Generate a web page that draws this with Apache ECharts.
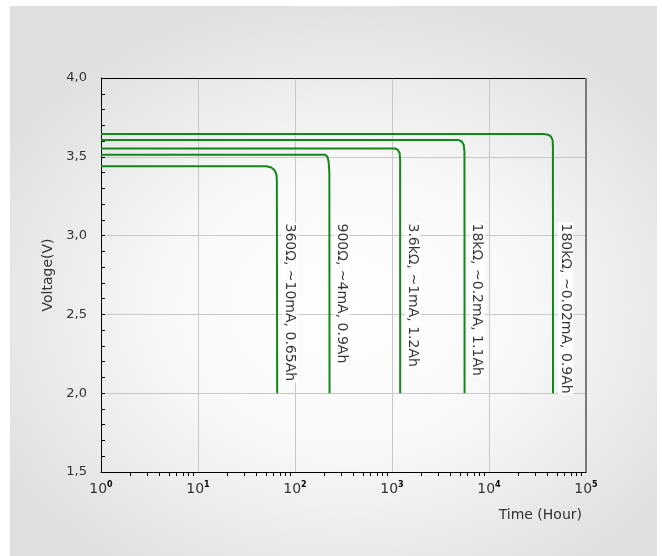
<!DOCTYPE html>
<html>
<head>
<meta charset="utf-8">
<script src="https://cdn.jsdelivr.net/npm/echarts@6/dist/echarts.min.js"></script>
<style>
html,body{margin:0;padding:0;background:#fff;}
#panel{position:absolute;left:10px;top:6px;width:647px;height:550px;
 background:radial-gradient(ellipse 62% 58% at 52% 55%, #ffffff 0%, #f8f8f8 45%, #e8e8e8 80%, #dfdfdf 100%);}
#chart{position:absolute;left:0;top:0;width:662px;height:556px;}
</style>
</head>
<body>
<div id="panel"></div>
<div id="chart"></div>
<script>
// Discharge curves: [time (hour), voltage (V)]
const curve360 = [[1,3.44],[50.7,3.44],[57,3.432],[61.3,3.416],[64.2,3.39],[65,3.352],[65.5,2.0]];
const curve900 = [[1,3.513],[205,3.513],[216,3.50],[222,3.47],[226,3.40],[227,2.0]];
const curve3k6 = [[1,3.553],[1064,3.553],[1142,3.546],[1199,3.524],[1213,3.48],[1215,2.0]];
const curve18k = [[1,3.606],[4875,3.606],[5236,3.597],[5495,3.575],[5585,3.53],[5600,2.0]];
const curve180k = [[1,3.644],[36800,3.644],[40460,3.640],[43470,3.629],[45290,3.606],[45600,3.568],[45700,2.0]];
const curveNames = ['360Ω','900Ω','3.6kΩ','18kΩ','180kΩ'];
const labelTexts = ['360Ω, ~10mA, 0.65Ah','900Ω, ~4mA, 0.9Ah','3.6kΩ, ~1mA, 1.2Ah','18kΩ, ~0.2mA, 1.1Ah','180kΩ, ~0.02mA, 0.9Ah'];
const labelTimes = [65.5, 227, 1215, 5600, 45700];
const labelVoltage = 3.08;
const yTicks = [1.5, 2.0, 2.5, 3.0, 3.5, 4.0];

const curves = [curve360, curve900, curve3k6, curve18k, curve180k];
const chart = echarts.init(document.getElementById('chart'), null, {renderer:'canvas'});
const green = '#12871a';

const series = curves.map((c, i) => ({
  name: curveNames[i], type: 'line', data: c, showSymbol: false, symbol: 'none',
  lineStyle: {color: green, width: 2}, smooth: false, silent: true, z: 3
}));
series.push({
  type: 'scatter', symbolSize: 1, itemStyle: {color: 'rgba(0,0,0,0)'}, silent: true, z: 5,
  data: labelTimes.map((t, i) => [t, labelVoltage, labelTexts[i]]),
  label: {
    show: true, position: [13, 0], rotate: -90, align: 'left', verticalAlign: 'middle',
    formatter: p => p.data[2], fontFamily: 'DejaVu Sans', fontSize: 14, color: '#000',
    backgroundColor: '#fff', padding: [1, 1, 1, 1]
  }
});

chart.setOption({
  animation: false,
  backgroundColor: 'transparent',
  grid: {left: 101, top: 78, right: 76, bottom: 84, containLabel: false,
         show: true, borderColor: '#000', borderWidth: 0},
  xAxis: {
    type: 'log', logBase: 10, min: 1, max: 100000,
    name: 'Time (Hour)', nameLocation: 'end', nameGap: -4,
    nameTextStyle: {fontFamily: 'DejaVu Sans', fontSize: 14, color: '#333', align: 'right', verticalAlign: 'top', padding: [36, 0, 0, 0]},
    axisLine: {show: true, lineStyle: {color: '#000', width: 1}},
    axisTick: {show: false},
    minorTick: {show: true, splitNumber: 9, length: 4, lineStyle: {color: '#000'}},
    minorSplitLine: {show: false},
    splitLine: {show: true, lineStyle: {color: '#c8c8c8', width: 1}},
    axisLabel: {
      margin: 9, color: '#333',
      formatter: v => '{b|10}{s|' + Math.round(Math.log10(v)) + '}',
      rich: {
        b: {fontFamily: 'DejaVu Sans', fontSize: 14, color: '#333', lineHeight: 16},
        s: {fontFamily: 'DejaVu Sans', fontSize: 8, fontWeight: 'bold', color: '#000', verticalAlign: 'top', lineHeight: 16, padding: [0,0,6,0]}
      }
    }
  },
  yAxis: {
    type: 'value', min: 1.5, max: 4.0, interval: 0.5,
    name: 'Voltage(V)', nameLocation: 'middle', nameGap: 42,
    nameTextStyle: {fontFamily: 'DejaVu Sans', fontSize: 14, color: '#333'},
    axisLine: {show: true, lineStyle: {color: '#000', width: 1}},
    axisTick: {show: true, inside: true, length: 4, lineStyle: {color: '#000'}},
    minorTick: {show: true, splitNumber: 5, length: 4, lineStyle: {color: '#000'}},
    splitLine: {show: true, lineStyle: {color: '#c8c8c8', width: 1}},
    axisLabel: {margin: 14, fontFamily: 'DejaVu Sans', fontSize: 13, color: '#333',
      formatter: v => yTicks.includes(v) ? v.toFixed(1).replace('.', ',') : ''}
  },
  series: series,
  graphic: []
});

// plot frame: top black, right gray (derived from grid rect)
const rect = chart.getModel().getComponent('grid').coordinateSystem.getRect();
chart.setOption({graphic: [
  {type: 'line', shape: {x1: rect.x, y1: rect.y + 0.5, x2: rect.x + rect.width, y2: rect.y + 0.5}, style: {stroke: '#000', lineWidth: 1}, z: 10},
  {type: 'line', shape: {x1: rect.x + rect.width, y1: rect.y, x2: rect.x + rect.width, y2: rect.y + rect.height}, style: {stroke: '#7a7a7a', lineWidth: 2}, z: 10}
]});
</script>
</body>
</html>
